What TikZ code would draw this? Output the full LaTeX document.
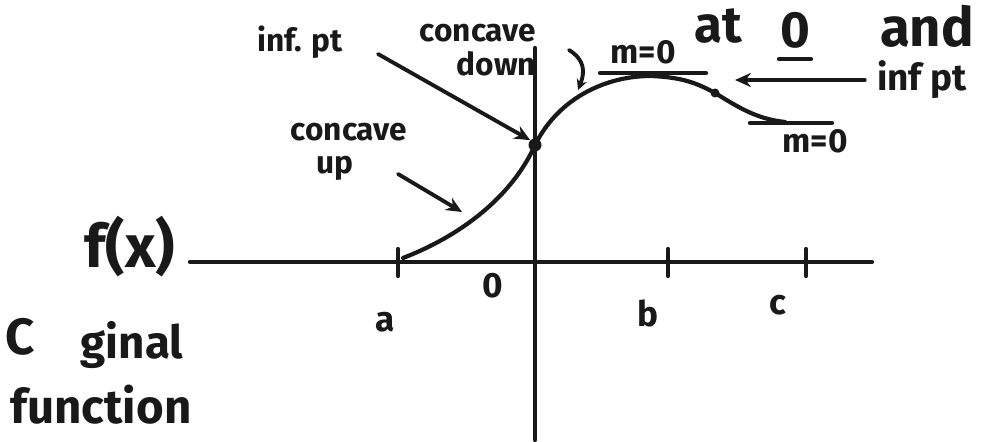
\documentclass[tikz,border=0pt]{standalone}
\usepackage{fontspec}
\setmainfont{Fira Sans}
\usepackage{xcolor}
\definecolor{ink}{RGB}{25,25,25}
\usetikzlibrary{arrows.meta,positioning}

\begin{document}
\begin{tikzpicture}[x=0.02cm, y=-0.02cm,
  inkline/.style={draw=ink, line width=2.4pt, line cap=round},
  inkarrow/.style={draw=ink, line width=2.2pt, line cap=round, -{Stealth[length=9pt,width=8pt]}},
  note/.style={text=ink, font=\fontsize{18}{19}\selectfont\bfseries, inner sep=0pt, align=left},
  big/.style={text=ink, font=\fontsize{29}{29}\selectfont\bfseries, inner sep=0pt},
  ticklabel/.style={text=ink, font=\fontsize{20}{20}\selectfont\bfseries, inner sep=0pt}]
  \useasboundingbox (0,0) rectangle (982,442);

  % axes and ticks
  \coordinate (xl) at (190,262);
  \coordinate (xr) at (872,262);
  \coordinate (yt) at (535,48);
  \coordinate (yb) at (535,440);
  \draw[inkline] (xl) -- (xr);
  \draw[inkline] (yt) -- (yb);
  \foreach \name/\xx in {ta/398, tb/668, tc/806} {
    \draw[inkline] (\xx,249) -- (\xx,276);
  }
  \node[ticklabel] (la) at (385,322) {a};
  \node[ticklabel] (lz) at (493,286) {0};
  \node[ticklabel] (lb) at (648,313) {b};
  \node[ticklabel] (lc) at (778,305) {c};

  % the curve
  \draw[inkline] (403,258) .. controls (470,232) and (515,190) .. (535,145)
    .. controls (560,95) and (610,76) .. (650,76)
    .. controls (685,77) and (700,85) .. (715,93)
    .. controls (735,105) and (755,119) .. (785,122);
  \node[circle, fill=ink, minimum size=0.26cm, inner sep=0pt] (ip1) at (535,145) {};
  \node[circle, fill=ink, minimum size=0.18cm, inner sep=0pt] (ip2) at (715,93) {};
  \coordinate (upcurve) at (462,212);
  \coordinate (upstart) at (398,174);
  \coordinate (infstart) at (378,54);

  % tangent lines
  \draw[inkline] (600,73) -- (706,73);
  \draw[inkline] (750,123) -- (832,123);

  % labels
  \node[big, font=\fontsize{34}{34}\selectfont\bfseries] (fx) at (130,247) {f(x)};
  \node[big] (orig1) at (20,337) {C};
  \node[big, font=\fontsize{26}{26}\selectfont\bfseries] (orig2) at (132,345) {ginal};
  \node[big, font=\fontsize{27}{27}\selectfont\bfseries] (orig3) at (101,405) {function};

  \node[note] (infpt) at (300,42) {inf. pt};
  \node[note, align=right] (ccdown) at (478,50) {concave\\down};
  \node[note] (ccup) at (349,152) {concave\\\hspace{0.8em}up};
  \node[note, font=\fontsize{19}{19}\selectfont\bfseries] (mtop) at (643,52) {m=0};
  \node[note, font=\fontsize{19}{19}\selectfont\bfseries] (mbot) at (815,141) {m=0};
  \node[note, font=\fontsize{21}{21}\selectfont\bfseries] (infpt2) at (922,80) {inf pt};

  \node[big] (at) at (718,26) {at};
  \node[big] (zero) at (795,30) {0};
  \node[big, font=\fontsize{31}{31}\selectfont\bfseries] (and) at (927,26) {and};
  \draw[inkline] (779,59) -- (811,59);

  % arrows
  \draw[inkarrow] (infstart) -- (ip1.north west);
  \draw[inkarrow] (upstart) -- (upcurve);
  \draw[inkarrow] (infpt2.west) ++(-12,0) -- (735,80);
  \draw[draw=ink, line width=2.2pt, line cap=round, -{Stealth[length=6pt,width=6pt]}]
    (569,50) .. controls (585,60) and (585,72) .. (578,90);
\end{tikzpicture}
\end{document}
